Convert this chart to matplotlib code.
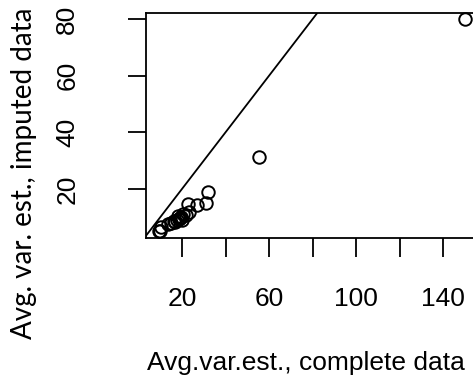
import matplotlib
matplotlib.use("Agg")
import matplotlib.pyplot as plt

# averaged variance estimates: complete data vs imputed data
complete_est = [149.8, 55.4, 31.9, 31.1, 26.8, 22.7, 23.4, 21.9, 20.5, 19.5, 18.8,
                18.0, 17.5, 17.0, 16.2, 15.0, 13.5, 10.4, 9.4, 10.0, 19.0, 20.0]
imputed_est = [80.0, 31.2, 19.0, 15.2, 14.4, 14.7, 12.0, 10.8, 11.0, 10.0, 9.5,
               10.5, 9.0, 8.5, 8.8, 7.9, 7.5, 6.7, 5.3, 5.0, 9.8, 9.0]

x_ticks = [20, 40, 60, 80, 100, 120, 140]
x_ticklabels = ["20", "", "60", "", "100", "", "140"]
y_ticks = [20, 40, 60, 80]

W, H = 473, 378
fig = plt.figure(figsize=(W / 100, H / 100), dpi=100)
fig.patch.set_facecolor("white")

# plot box: left 146px, top 13px, bottom 238px, right edge off the figure
ax = fig.add_axes([146 / W, 1 - 238 / H, 341 / W, 225 / H])
ax.set_xlim(3.5, 160)
ax.set_ylim(2.7, 82.1)

ax.plot(complete_est, imputed_est, "o", mfc="none", mec="black", ms=9, mew=1.4,
        clip_on=False)
ax.axline((0, 0), slope=1, color="black", lw=1.3)

for s in ax.spines.values():
    s.set_linewidth(1.3)
    s.set_color("black")

tick_font = dict(family="Liberation Sans", size=19)
ax.set_xticks(x_ticks)
ax.set_xticklabels(x_ticklabels, fontdict=tick_font)
ax.set_yticks(y_ticks)
ax.set_yticklabels([str(v) for v in y_ticks], fontdict=tick_font, rotation=90, va="center")
ax.tick_params(axis="x", length=14, width=1.3, pad=21)
ax.tick_params(axis="y", length=13, width=1.3, pad=35)

fig.text(306 / W, 1 - 363 / H, "Avg.var.est., complete data", ha="center", va="center",
         family="Liberation Sans", size=19)
fig.text(24 / W, 1 - 173 / H, "Avg. var. est., imputed data", ha="center", va="center",
         rotation=90, family="Lato", size=20)

fig.savefig("out.png", dpi=100)
